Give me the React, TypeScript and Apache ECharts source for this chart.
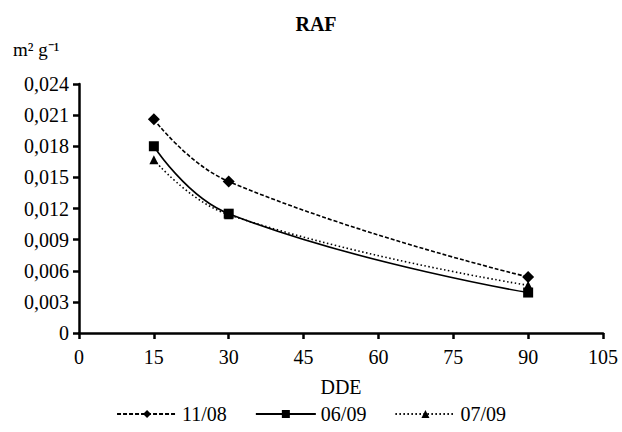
import React, { useEffect, useRef } from "react";
import * as echarts from "echarts";

const xValues = [15, 30, 90];
const seriesNames = ["11/08", "06/09", "07/09"];
const s1108 = [0.0206, 0.0146, 0.0054];
const s0609 = [0.018, 0.0115, 0.0039];
const s0709 = [0.0167, 0.0114, 0.0046];
const yTicks = [0, 0.003, 0.006, 0.009, 0.012, 0.015, 0.018, 0.021, 0.024];
const xTicks = [0, 15, 30, 45, 60, 75, 90, 105];
const yUnit = "m² g⁻¹";

const FONT = "Liberation Serif";

export default function App() {
  const ref = useRef<HTMLDivElement>(null);
  useEffect(() => {
    const chart = echarts.init(ref.current!, null, { renderer: "svg" });
    const mk = (vals: number[]) => xValues.map((x, i) => [x, vals[i]]);
    const symbols = ["diamond", "rect", "triangle"];
    const types: any[] = [[4, 2], "solid", [1.5, 2.5]];
    const sizes = [12, 10, 9];
    const data = [s1108, s0609, s0709];
    chart.setOption({
      animation: false,
      backgroundColor: "#fff",
      textStyle: { fontFamily: FONT, color: "#000" },
      title: {
        text: "RAF",
        left: 311,
        top: 9,
        textAlign: "center",
        textStyle: { fontFamily: FONT, fontSize: 20, fontWeight: "bold", color: "#000" },
      },
      graphic: [
        {
          type: "text",
          left: 13,
          top: 40,
          style: { text: yUnit, fontFamily: FONT, fontSize: 19, fill: "#000" },
        },
      ],
      grid: { left: 79, right: 19, top: 84, bottom: 99 },
      legend: {
        bottom: 3,
        left: "center",
        itemWidth: 60,
        itemHeight: 10,
        itemGap: 28,
        textStyle: { fontFamily: FONT, fontSize: 20, color: "#000" },
        data: seriesNames,
      },
      xAxis: {
        type: "value",
        min: 0,
        max: 105,
        interval: 15,
        name: "DDE",
        nameLocation: "middle",
        nameGap: 44,
        nameTextStyle: { fontFamily: FONT, fontSize: 20, color: "#000" },
        splitLine: { show: false },
        axisLine: { show: true, lineStyle: { color: "#000", width: 2.5 } },
        axisTick: { show: true, length: 6, lineStyle: { color: "#000", width: 2.5 } },
        axisLabel: {
          fontFamily: FONT,
          fontSize: 20,
          color: "#000",
          margin: 14,
          customValues: xTicks,
        },
      },
      yAxis: {
        type: "value",
        min: 0,
        max: 0.024,
        interval: 0.003,
        splitLine: { show: false },
        axisLine: { show: true, lineStyle: { color: "#000", width: 2.5 } },
        axisTick: { show: true, length: 6, lineStyle: { color: "#000", width: 2.5 } },
        axisLabel: {
          fontFamily: FONT,
          fontSize: 20,
          color: "#000",
          margin: 10,
          formatter: (v: number) => {
            const t = yTicks.find((k) => Math.abs(k - v) < 1e-9);
            if (t === undefined) return "";
            return t === 0 ? "0" : t.toFixed(3).replace(".", ",");
          },
        },
      },
      series: seriesNames.map((name, i) => ({
        name,
        type: "line",
        smooth: 0.45,
        data: mk(data[i]),
        symbol: symbols[i],
        symbolSize: sizes[i],
        itemStyle: { color: "#000" },
        lineStyle: { color: "#000", width: 1.6, type: types[i] },
      })),
    });
    return () => chart.dispose();
  }, []);
  return (
    <div
      ref={ref}
      style={{ position: "fixed", left: 0, top: 0, width: 622, height: 432 }}
    />
  );
}
